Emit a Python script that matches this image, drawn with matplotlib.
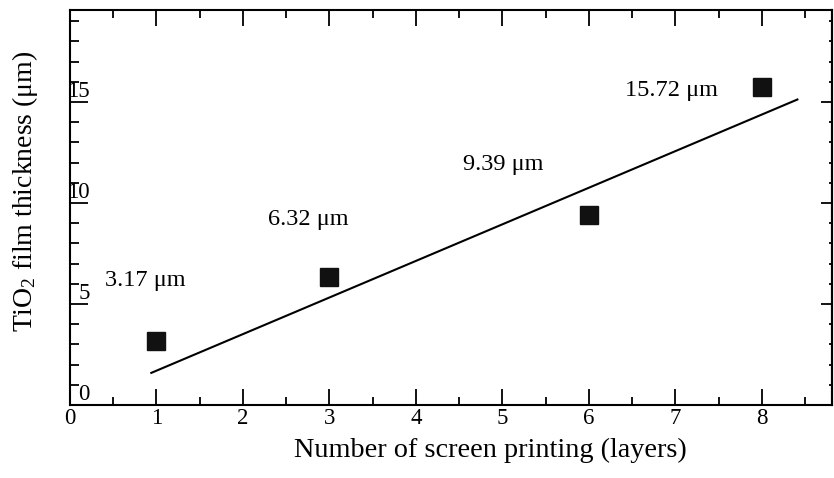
import matplotlib
matplotlib.use("Agg")
import matplotlib.pyplot as plt
from matplotlib.ticker import MultipleLocator

plt.rcParams['font.family'] = ['Liberation Serif', 'DejaVu Serif']
plt.rcParams['mathtext.fontset'] = 'custom'
plt.rcParams['mathtext.rm'] = 'Liberation Serif'
plt.rcParams['mathtext.it'] = 'Liberation Serif:italic'

# Data
layers = [1, 3, 6, 8]
thickness = [3.17, 6.32, 9.39, 15.72]
point_labels = ["3.17 μm", "6.32 μm", "9.39 μm", "15.72 μm"]
label_x = [0.40, 2.29, 4.54, 6.42]
label_y = [6.15, 9.2, 11.9, 15.55]
fit_x = [0.94, 8.41]
fit_y = [1.59, 15.12]
x_ticks = [0, 1, 2, 3, 4, 5, 6, 7, 8]
y_ticks = [0, 5, 10, 15]

fig = plt.figure(figsize=(8.34, 4.78), dpi=100)
ax = fig.add_axes([70/834, 1-405/478, (832-70)/834, (405-10)/478])

ax.plot(fit_x, fit_y, color='black', lw=1.5)
ax.plot(layers, thickness, linestyle='none', marker='s', markersize=13,
        color='#111111')
for tx, ty, s in zip(label_x, label_y, point_labels):
    ax.text(tx, ty, s, ha='left', va='center', fontsize=17.5)

ax.set_xlim(0, 8.81)
ax.set_ylim(0, 19.55)
ax.set_xticks(x_ticks)
ax.set_yticks(y_ticks)
ax.xaxis.set_minor_locator(MultipleLocator(0.5))
ax.yaxis.set_minor_locator(MultipleLocator(1))

for sp in ax.spines.values():
    sp.set_linewidth(1.5)

ax.tick_params(axis='x', which='both', direction='in', top=True, bottom=True,
               labelsize=16.5, width=1.3, pad=2.5)
ax.tick_params(axis='x', which='major', length=11.5)
ax.tick_params(axis='x', which='minor', length=6)
ax.tick_params(axis='y', which='both', direction='in', left=True, right=False,
               labelsize=16.5, width=1.3, pad=-14)
ax.tick_params(axis='y', which='major', length=13)
ax.tick_params(axis='y', which='minor', length=6.5)
for lab in ax.get_yticklabels():
    lab.set_horizontalalignment('right')
    lab.set_verticalalignment('bottom')

sec = ax.secondary_yaxis('right')
sec.set_yticks(y_ticks)
sec.yaxis.set_minor_locator(MultipleLocator(1))
sec.tick_params(axis='y', which='both', direction='in', labelright=False, width=1.3)
sec.tick_params(axis='y', which='major', length=8)
sec.tick_params(axis='y', which='minor', length=2.5)
sec.spines['right'].set_linewidth(1.5)

ax.set_xlabel('Number of screen printing (layers)', fontsize=20.3)
ax.xaxis.set_label_coords((490-70)/762, -(450-405)/395)
ax.xaxis.label.set_verticalalignment('center')
ax.set_ylabel('TiO$_2$ film thickness (μm)', fontsize=20)
ax.yaxis.set_label_coords(-45/762, (405-191)/395)
ax.yaxis.label.set_verticalalignment('center')

fig.savefig('out.png', dpi=100)
